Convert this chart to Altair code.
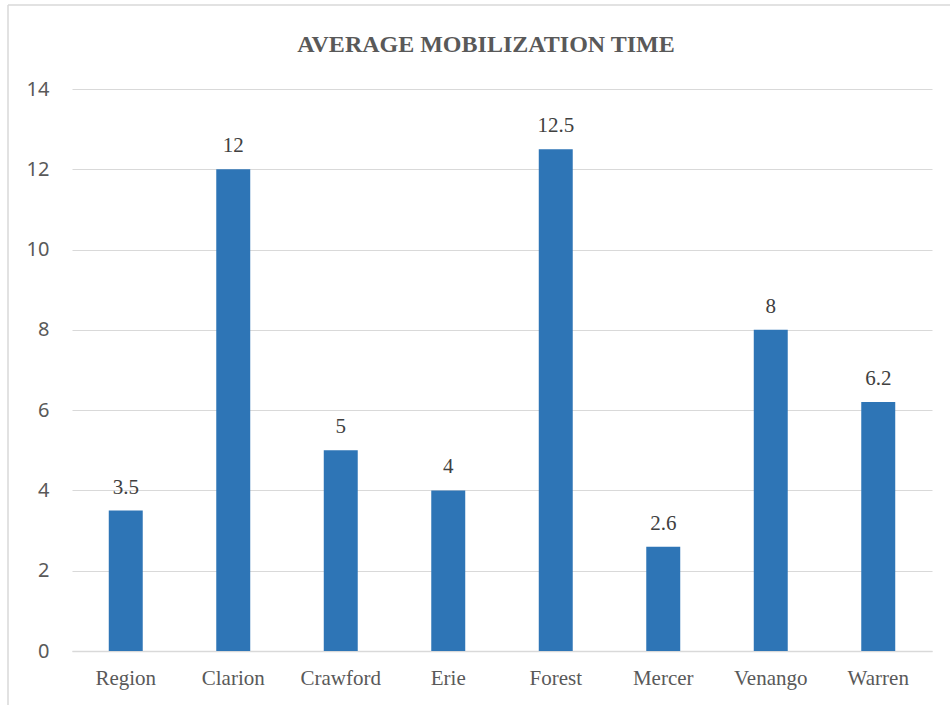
import altair as alt
import pandas as pd

categories = ["Region", "Clarion", "Crawford", "Erie", "Forest", "Mercer", "Venango", "Warren"]
values = [3.5, 12, 5, 4, 12.5, 2.6, 8, 6.2]
labels = ["3.5", "12", "5", "4", "12.5", "2.6", "8", "6.2"]
y_ticks = [0, 2, 4, 6, 8, 10, 12, 14]
title_text = ["AVERAGE MOBILIZATION TIME"]

df = pd.DataFrame({"cat": categories, "val": values, "lab": labels})
tdf = pd.DataFrame({"t": title_text})

W, H = 860, 562
PL, PT = 72, 89

x = alt.X("cat:N", sort=categories, title=None,
          scale=alt.Scale(paddingInner=0.684, paddingOuter=0.342),
          axis=alt.Axis(labelAngle=0, labelFont="Liberation Serif", labelFontSize=21,
                        labelColor="#595959", ticks=False, domainColor="#d9d9d9",
                        domainWidth=1.5, labelPadding=16))
y = alt.Y("val:Q", title=None,
          scale=alt.Scale(domain=[0, 14], nice=False),
          axis=alt.Axis(values=y_ticks, labelFont="Noto Sans", labelFontSize=20,
                        labelColor="#595959", ticks=False, domain=False,
                        gridColor="#d9d9d9", gridWidth=1, labelPadding=23))

bars = alt.Chart(df).mark_bar(color="#2E75B6").encode(x=x, y=y)
text = alt.Chart(df).mark_text(font="Liberation Serif", fontSize=21, color="#404040",
                                baseline="alphabetic", dy=-17).encode(
    x=alt.X("cat:N", sort=categories), y="val:Q", text="lab:N")

title = alt.Chart(tdf).mark_text(font="Liberation Serif", fontSize=24, fontWeight="bold",
                                 color="#595959", baseline="alphabetic", align="center").encode(
    x=alt.value(486 - PL), y=alt.value(52 - PT), text="t:N")

border_top = alt.Chart(tdf).mark_rule(color="#d9d9d9", strokeWidth=1.5).encode(
    x=alt.value(8 - PL), x2=alt.value(950 - PL), y=alt.value(5 - PT))
border_left = alt.Chart(tdf).mark_rule(color="#d9d9d9", strokeWidth=1.5).encode(
    x=alt.value(8 - PL), y=alt.value(5 - PT), y2=alt.value(705 - PT))

chart = alt.layer(bars, text, title, border_top, border_left).properties(
    width=W, height=H,
    autosize=alt.AutoSizeParams(type="none"),
    padding={"left": PL, "top": PT, "right": 950 - PL - W, "bottom": 705 - PT - H},
).configure(background="white").configure_view(stroke=None)

chart.save("out.html", embed_options={"renderer": "svg", "actions": False})
